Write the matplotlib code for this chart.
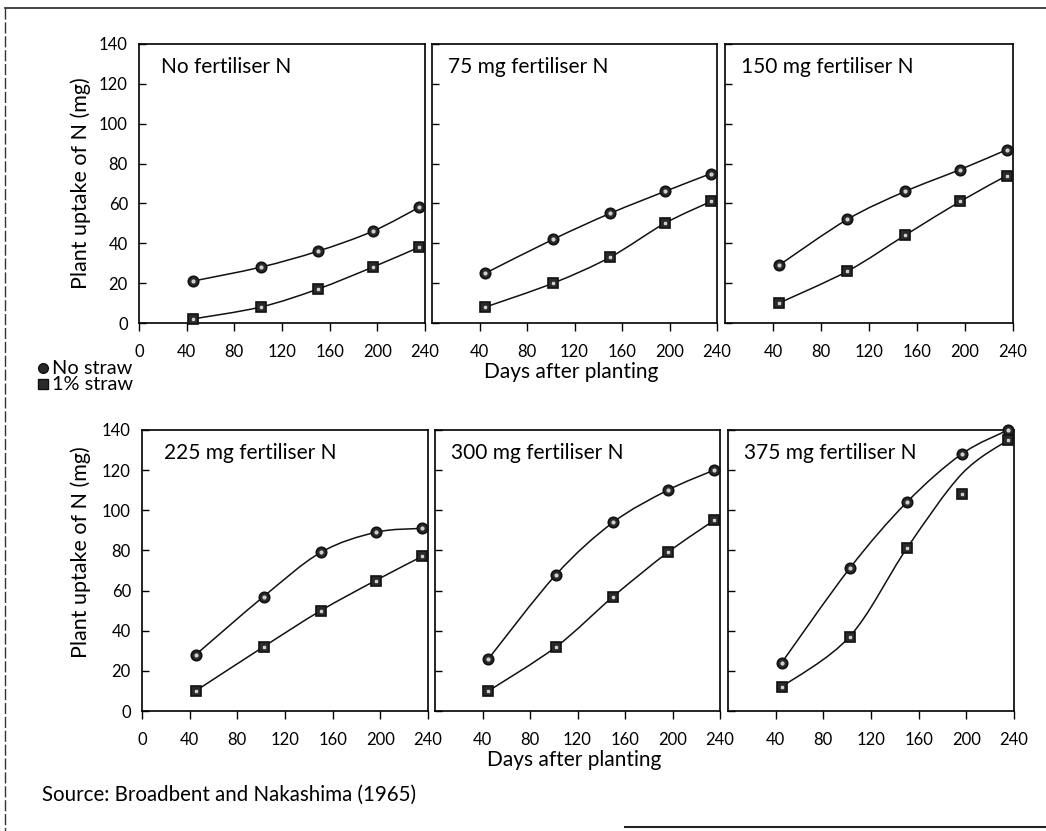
import numpy as np
import matplotlib
matplotlib.use("Agg")
import matplotlib.pyplot as plt
from matplotlib.path import Path
from matplotlib.patches import PathPatch
from matplotlib.lines import Line2D

plt.rcParams['font.family'] = ['Lato', 'DejaVu Sans']

# Sampling days and N uptake (mg) per treatment
days = [45, 102, 150, 196, 235]
titles = ['No fertiliser N', '75 mg fertiliser N', '150 mg fertiliser N',
          '225 mg fertiliser N', '300 mg fertiliser N', '375 mg fertiliser N']
no_straw = [
    [21, 28, 36, 46, 58],
    [25, 42, 55, 66, 75],
    [29, 52, 66, 77, 87],
    [28, 57, 79, 89, 91],
    [26, 68, 94, 110, 120],
    [24, 71, 104, 128, 140],
]
straw = [
    [2, 8, 17, 28, 38],
    [8, 20, 33, 50, 61],
    [10, 26, 44, 61, 74],
    [10, 32, 50, 65, 77],
    [10, 32, 57, 79, 95],
    [12, 37, 81, 108, 135],
]
# the fitted line for 375 mg + straw passes above the day-196 point
straw_line = [row[:] for row in straw]
straw_line[5] = [12, 37, 81, 118, 135]

W, H = 1046, 831
fig = plt.figure(figsize=(W / 100, H / 100), dpi=100)

# panel boxes in pixels: (left, right, top, bottom)
boxes = [
    (139, 425, 44, 323), (432, 717, 44, 323), (725, 1013, 44, 323),
    (142, 428, 430, 711), (435, 720, 430, 711), (728, 1014, 430, 711),
]


def px(x, y):
    return x / W, 1 - y / H


def smooth_line(ax, xs, ys):
    # Catmull-Rom curve through the points, drawn as cubic Bezier segments
    pts = np.column_stack([xs, ys]).astype(float)
    ext = np.vstack([pts[0], pts, pts[-1]])
    verts = [pts[0]]
    codes = [Path.MOVETO]
    for i in range(len(pts) - 1):
        p0, p1, p2, p3 = ext[i], ext[i + 1], ext[i + 2], ext[i + 3]
        verts += [p1 + (p2 - p0) / 6, p2 - (p3 - p1) / 6, p2]
        codes += [Path.CURVE4] * 3
    ax.add_patch(PathPatch(Path(verts, codes), fill=False, lw=1.1,
                           ec='#111111', clip_on=False, zorder=2))


for k, (l, r, t, b) in enumerate(boxes):
    ax = fig.add_axes([l / W, 1 - b / H, (r - l) / W, (b - t) / H])
    ax.set_xlim(0, 240)
    ax.set_ylim(0, 140)
    first = k % 3 == 0
    ax.set_xticks(range(0, 241, 40) if first else range(40, 241, 40))
    ax.set_yticks(range(0, 141, 20))
    ax.tick_params(axis='x', direction='out', length=6, width=1, pad=9,
                   labelsize=12)
    ax.tick_params(axis='y', direction='in', length=5, width=1, pad=8,
                   labelsize=12, labelleft=first)
    for s in ax.spines.values():
        s.set_linewidth(1.2)

    smooth_line(ax, days, no_straw[k])
    smooth_line(ax, days, straw_line[k])
    ax.plot(days, no_straw[k], 'o', ms=7.5, mfc='#2a2a2a', mec='#111111',
            mew=1.2, clip_on=False, zorder=3)
    ax.plot(days, straw[k], 's', ms=7, mfc='#2a2a2a', mec='#111111',
            mew=1.2, clip_on=False, zorder=3)
    ax.plot(days, no_straw[k], 'o', ms=2, color='#d0d0d0', clip_on=False,
            zorder=4)
    ax.plot(days, straw[k], 's', ms=2, color='#d0d0d0', clip_on=False,
            zorder=4)

    dx = 22 if first else 16
    fig.text(*px(l + dx, t + 23), titles[k], fontsize=15,
             va='center', ha='left')

for yc in (183, 552):
    fig.text(*px(81, yc), 'Plant uptake of N (mg)', rotation=90,
             fontsize=15.5, ha='center', va='center')
fig.text(*px(571, 372), 'Days after planting', fontsize=15,
         ha='center', va='center')
fig.text(*px(574, 760), 'Days after planting', fontsize=15,
         ha='center', va='center')

# legend below the first panel
for yc, mk, label in ((368, 'o', 'No straw'), (384, 's', '1% straw')):
    fig.add_artist(Line2D([43 / W], [1 - yc / H], marker=mk, ms=7,
                          mfc='#2a2a2a', mec='#111111',
                          transform=fig.transFigure))
    fig.text(*px(52, yc), label, fontsize=14.4, va='center')

fig.text(*px(42, 795), 'Source: Broadbent and Nakashima (1965)',
         fontsize=14.8, va='center')

# frame lines around the figure
fig.add_artist(Line2D([5 / W, 1], [1 - 8 / H, 1 - 8 / H], lw=1.2,
                      color='#222222', transform=fig.transFigure))
fig.add_artist(Line2D([5 / W, 5 / W], [1 - 8 / H, 0], lw=1,
                      color='#333333', ls=(0, (8, 2)),
                      transform=fig.transFigure))
fig.add_artist(Line2D([625 / W, 1], [1 - 827 / H, 1 - 827 / H], lw=1.5,
                      color='#222222', transform=fig.transFigure))

fig.savefig('out.png', dpi=100)
